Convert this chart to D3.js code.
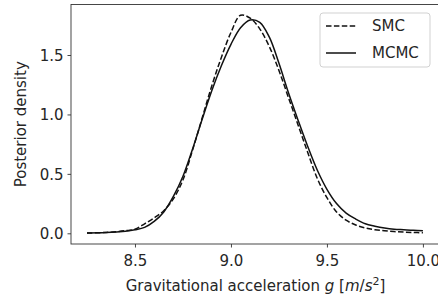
<!DOCTYPE html>
<head>
  <meta charset="utf-8">
  <style>
    body { margin:0; background:#fff; overflow:hidden; }
    text { font-family:"DejaVu Sans", sans-serif; font-size:15px; fill:#262626; }
  </style>
</head>
<body>
  <script src="https://d3js.org/d3.v7.min.js"></script>
  <script>

    // DATA
    var gValues = [8.25, 8.35, 8.45, 8.5, 8.55, 8.6, 8.65, 8.7, 8.75, 8.8, 8.85, 8.9, 8.95, 9.0,
                   9.05, 9.1, 9.15, 9.2, 9.25, 9.3, 9.35, 9.4, 9.45, 9.5, 9.55, 9.6, 9.65, 9.7,
                   9.75, 9.8, 9.85, 9.9, 9.95, 10.0];
    var smcDensity = [0.003, 0.007, 0.022, 0.035, 0.08, 0.13, 0.19, 0.29, 0.45, 0.70, 0.97, 1.24, 1.48, 1.69,
                      1.835, 1.81, 1.72, 1.57, 1.37, 1.14, 0.91, 0.68, 0.46, 0.30, 0.18, 0.11, 0.07, 0.045,
                      0.03, 0.022, 0.015, 0.01, 0.007, 0.005];
    var mcmcDensity = [0.003, 0.006, 0.018, 0.03, 0.05, 0.10, 0.18, 0.31, 0.48, 0.71, 0.96, 1.20, 1.41, 1.59,
                       1.73, 1.795, 1.775, 1.65, 1.43, 1.18, 0.95, 0.73, 0.53, 0.37, 0.25, 0.17, 0.12, 0.08,
                       0.06, 0.045, 0.035, 0.03, 0.025, 0.022];
    var xTicks = [8.5, 9.0, 9.5, 10.0];
    var yTicks = [0.0, 0.5, 1.0, 1.5];
    var seriesNames = ["SMC", "MCMC"];

    // DIMENSIONS
    var width = 438, height = 301;
    var plotLeft = 71, plotRight = 440, plotTop = 4.5, plotBottom = 244;

    var svg = d3.select("body").append("svg")
      .attr("width", width)
      .attr("height", height);

    var x = d3.scaleLinear().domain([8.1667, 10.089]).range([plotLeft, plotRight]);
    var y = d3.scaleLinear().domain([-0.09, 1.925]).range([plotBottom, plotTop]);

    // CURVES
    var line = d3.line()
      .x(d => x(d[0]))
      .y(d => y(d[1]))
      .curve(d3.curveCatmullRom.alpha(0.5));

    svg.append("path")
      .datum(gValues.map((g, i) => [g, smcDensity[i]]))
      .attr("d", line)
      .attr("fill", "none")
      .attr("stroke", "#111")
      .attr("stroke-width", 1.5)
      .attr("stroke-dasharray", "5.5,2.4");

    svg.append("path")
      .datum(gValues.map((g, i) => [g, mcmcDensity[i]]))
      .attr("d", line)
      .attr("fill", "none")
      .attr("stroke", "#111")
      .attr("stroke-width", 1.5);

    // AXES
    var xAxis = svg.append("g")
      .attr("transform", "translate(0," + plotBottom + ")")
      .call(d3.axisBottom(x).tickValues(xTicks).tickFormat(d3.format(".1f")).tickSizeOuter(0).tickSize(3.5).tickPadding(4));
    var yAxis = svg.append("g")
      .attr("transform", "translate(" + plotLeft + ",0)")
      .call(d3.axisLeft(y).tickValues(yTicks).tickFormat(d3.format(".1f")).tickSizeOuter(0).tickSize(3.5).tickPadding(4));

    [xAxis, yAxis].forEach(a => {
      a.select(".domain").remove();
      a.selectAll("line").attr("stroke", "#333").attr("stroke-width", 0.9);
      a.selectAll("text").attr("font-family", null).attr("font-size", null);
    });
    xAxis.selectAll("text").attr("dy", "0.95em");
    yAxis.selectAll("text").attr("dy", "0.36em");

    // SPINES
    svg.append("rect")
      .attr("x", plotLeft).attr("y", plotTop)
      .attr("width", plotRight - plotLeft).attr("height", plotBottom - plotTop)
      .attr("fill", "none")
      .attr("stroke", "#333")
      .attr("stroke-width", 0.9);

    // AXIS LABELS
    var xl = svg.append("text")
      .attr("x", (plotLeft + plotRight) / 2)
      .attr("y", 291)
      .attr("text-anchor", "middle");
    xl.append("tspan").text("Gravitational acceleration ");
    xl.append("tspan").attr("font-style", "italic").text("g");
    xl.append("tspan").text(" [");
    xl.append("tspan").attr("font-style", "italic").text("m");
    xl.append("tspan").text("/");
    xl.append("tspan").attr("font-style", "italic").text("s");
    xl.append("tspan").attr("font-size", "11px").attr("dy", "-6").text("2");
    xl.append("tspan").attr("dy", "6").text("]");

    svg.append("text")
      .attr("transform", "translate(26," + ((plotTop + plotBottom) / 2) + ") rotate(-90)")
      .attr("text-anchor", "middle")
      .text("Posterior density");

    // LEGEND
    var legend = svg.append("g").attr("transform", "translate(320,13)");
    legend.append("rect")
      .attr("width", 110).attr("height", 54)
      .attr("rx", 3)
      .attr("fill", "#fff").attr("fill-opacity", 0.8)
      .attr("stroke", "#ccc").attr("stroke-width", 0.9);

    seriesNames.forEach((name, i) => {
      var yy = 13 + i * 27;
      legend.append("line")
        .attr("x1", 6).attr("x2", 36)
        .attr("y1", yy).attr("y2", yy)
        .attr("stroke", "#111").attr("stroke-width", 1.5)
        .attr("stroke-dasharray", i === 0 ? "5.5,2.4" : null);
      legend.append("text")
        .attr("x", 52).attr("y", yy)
        .attr("dy", "0.36em")
        .text(name);
    });

  </script>
</body>
